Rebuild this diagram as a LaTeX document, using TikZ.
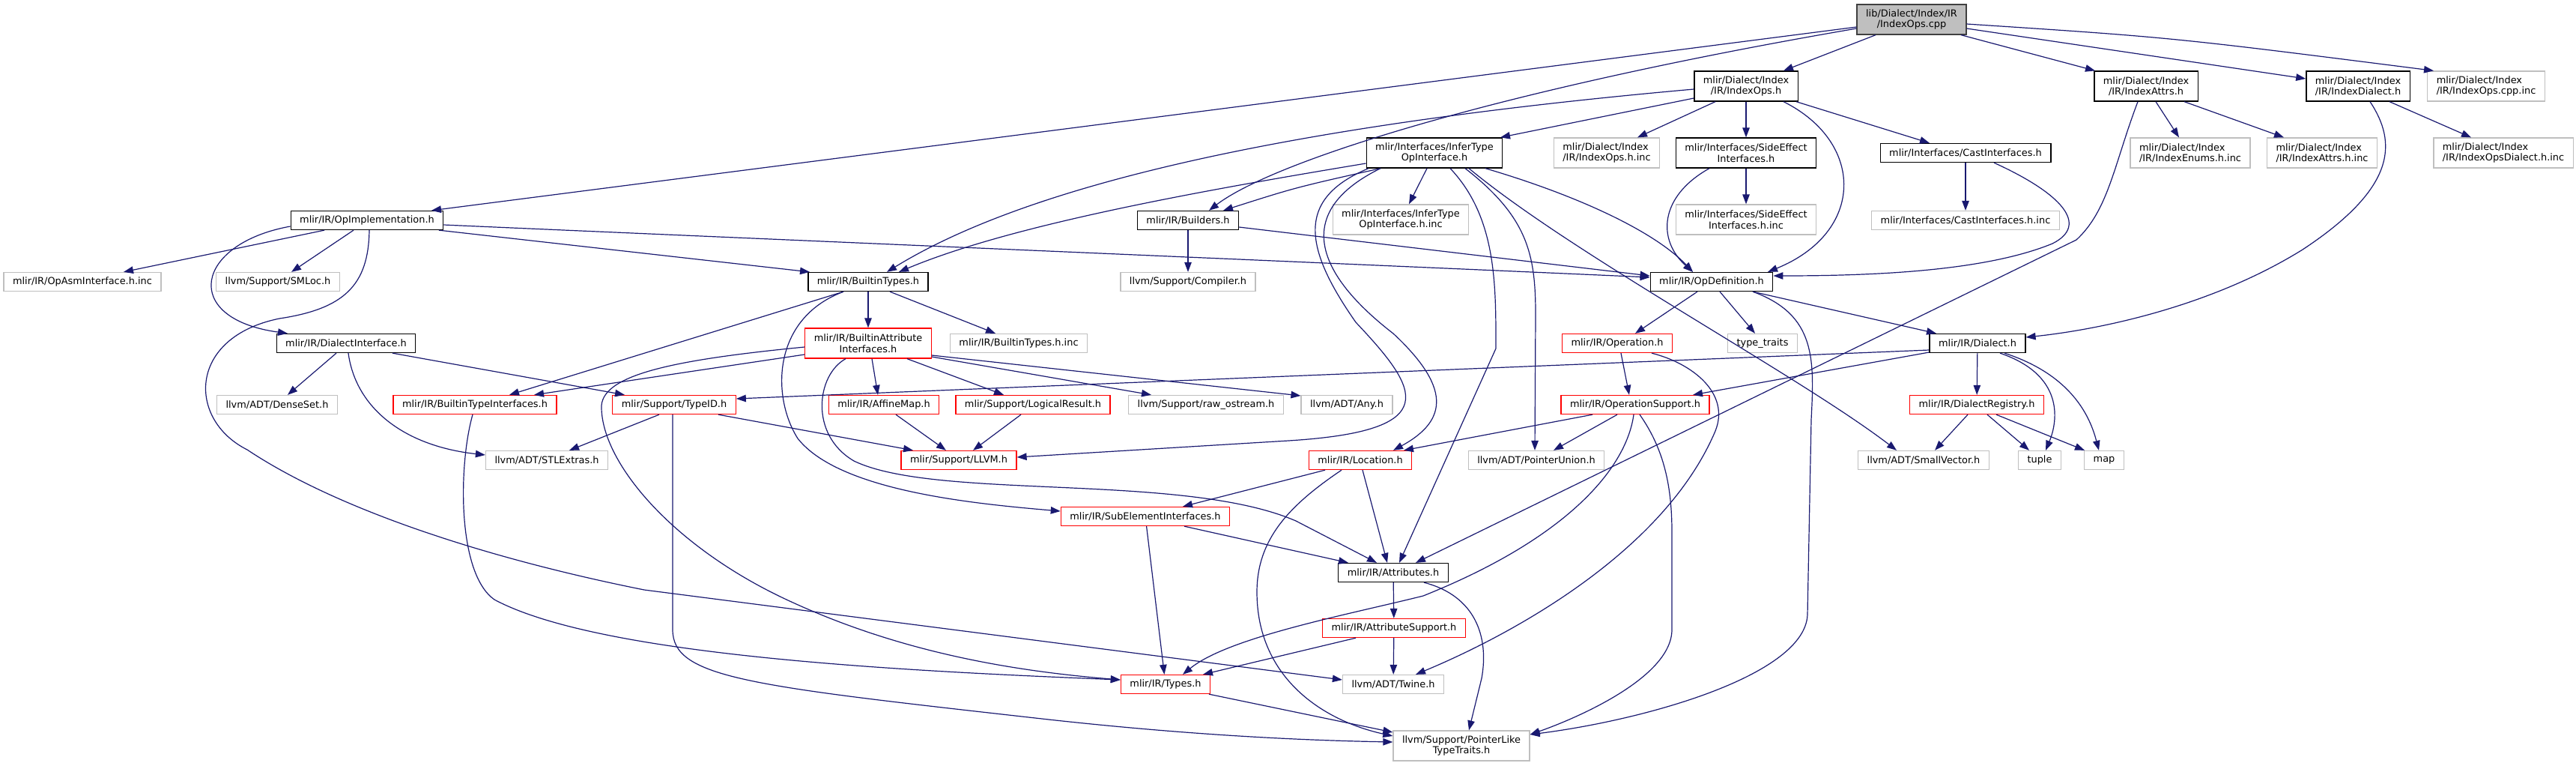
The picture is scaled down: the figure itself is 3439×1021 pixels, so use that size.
\documentclass[tikz,border=0pt]{standalone}
\usepackage{fontspec}
\setmainfont{DejaVu Sans}
\usetikzlibrary{arrows.meta}
\definecolor{bleunuit}{HTML}{191970}
\definecolor{grisclair}{HTML}{BFBFBF}
\definecolor{grisfonce}{HTML}{404040}

\begin{document}
\begin{tikzpicture}[x=1pt, y=-1pt,
    boite/.style={draw, line width=1.3pt, inner xsep=12pt, inner ysep=0pt,
        minimum height=25pt, align=center, text=black,
        font=\fontsize{12.9}{14.5}\selectfont},
    doc/.style={boite, draw=black},
    ext/.style={boite, draw=grisclair},
    trq/.style={boite, draw=red},
    racine/.style={boite, draw=grisfonce, fill=grisclair},
    deux/.style={minimum height=40pt},
    gauche/.style={align=left},
    dep/.style={draw=bleunuit, line width=1.2pt, -{Triangle[length=13pt, width=9.5pt]}}]

    \useasboundingbox (0,0) rectangle (3439,1021);

    % Fichier racine
    \node[racine, deux] (root) at (2552,26) {lib/Dialect/Index/IR\\/IndexOps.cpp};

    % Rangee 1
    \node[doc, deux] (indexopsh) at (2331,115) {mlir/Dialect/Index\\/IR/IndexOps.h};
    \node[doc, deux] (indexattrs) at (2865,115) {mlir/Dialect/Index\\/IR/IndexAttrs.h};
    \node[doc, deux] (indexdialect) at (3148,115) {mlir/Dialect/Index\\/IR/IndexDialect.h};
    \node[ext, deux, gauche] (opscppinc) at (3319,115) {mlir/Dialect/Index\\/IR/IndexOps.cpp.inc};

    % Rangee 2
    \node[doc, deux] (infertype) at (1915,204) {mlir/Interfaces/InferType\\OpInterface.h};
    \node[ext, deux, gauche] (opshinc) at (2145,204) {mlir/Dialect/Index\\/IR/IndexOps.h.inc};
    \node[doc, deux] (sideeffect) at (2331,204) {mlir/Interfaces/SideEffect\\Interfaces.h};
    \node[doc] (castif) at (2624,204) {mlir/Interfaces/CastInterfaces.h};
    \node[ext, deux, gauche] (enumsinc) at (2924,204) {mlir/Dialect/Index\\/IR/IndexEnums.h.inc};
    \node[ext, deux, gauche] (attrsinc) at (3100,204) {mlir/Dialect/Index\\/IR/IndexAttrs.h.inc};
    \node[ext, deux, gauche] (dialectinc) at (3342,204) {mlir/Dialect/Index\\/IR/IndexOpsDialect.h.inc};

    % Rangee 3
    \node[doc] (opimpl) at (490,294) {mlir/IR/OpImplementation.h};
    \node[doc] (builders) at (1586,294) {mlir/IR/Builders.h};
    \node[ext, deux] (infertypeinc) at (1870,293) {mlir/Interfaces/InferType\\OpInterface.h.inc};
    \node[ext, deux] (sideeffectinc) at (2331,293) {mlir/Interfaces/SideEffect\\Interfaces.h.inc};
    \node[ext] (castifinc) at (2624,294) {mlir/Interfaces/CastInterfaces.h.inc};

    % Rangee 4
    \node[ext] (opasm) at (110,376) {mlir/IR/OpAsmInterface.h.inc};
    \node[ext] (smloc) at (371,376) {llvm/Support/SMLoc.h};
    \node[doc] (builtintypes) at (1159,376) {mlir/IR/BuiltinTypes.h};
    \node[ext] (compiler) at (1586,376) {llvm/Support/Compiler.h};
    \node[doc] (opdef) at (2285,376) {mlir/IR/OpDefinition.h};

    % Rangee 5
    \node[doc] (dialectif) at (462,458) {mlir/IR/DialectInterface.h};
    \node[trq, deux] (battrif) at (1159,458) {mlir/IR/BuiltinAttribute\\Interfaces.h};
    \node[ext] (builtintypesinc) at (1360,458) {mlir/IR/BuiltinTypes.h.inc};
    \node[trq] (operation) at (2159,458) {mlir/IR/Operation.h};
    \node[ext] (typetraits) at (2353,458) {type\_traits};
    \node[doc] (dialect) at (2640,458) {mlir/IR/Dialect.h};

    % Rangee 6
    \node[ext] (denseset) at (370,540) {llvm/ADT/DenseSet.h};
    \node[trq] (btypeif) at (634,540) {mlir/IR/BuiltinTypeInterfaces.h};
    \node[trq] (typeid) at (900,540) {mlir/Support/TypeID.h};
    \node[trq] (affinemap) at (1180,540) {mlir/IR/AffineMap.h};
    \node[trq] (logicalres) at (1379,540) {mlir/Support/LogicalResult.h};
    \node[ext] (rawostream) at (1610,540) {llvm/Support/raw\_ostream.h};
    \node[ext] (any) at (1798,540) {llvm/ADT/Any.h};
    \node[trq] (opsupport) at (2183,540) {mlir/IR/OperationSupport.h};
    \node[trq] (registry) at (2639,540) {mlir/IR/DialectRegistry.h};

    % Rangee 7
    \node[ext] (stlextras) at (730,614) {llvm/ADT/STLExtras.h};
    \node[trq] (llvmh) at (1280,614) {mlir/Support/LLVM.h};
    \node[trq] (location) at (1816,614) {mlir/IR/Location.h};
    \node[ext] (ptrunion) at (2051,614) {llvm/ADT/PointerUnion.h};
    \node[ext] (smallvec) at (2568,614) {llvm/ADT/SmallVector.h};
    \node[ext] (tuple) at (2723,614) {tuple};
    \node[ext] (map) at (2809,614) {map};

    % Rangees du bas
    \node[trq] (subelem) at (1529,689) {mlir/IR/SubElementInterfaces.h};
    \node[doc] (attributes) at (1860,764) {mlir/IR/Attributes.h};
    \node[trq] (attrsupport) at (1861,838) {mlir/IR/AttributeSupport.h};
    \node[trq] (types) at (1556,913) {mlir/IR/Types.h};
    \node[ext] (twine) at (1860,913) {llvm/ADT/Twine.h};
    \node[ext, deux] (ptrlike) at (1951,995) {llvm/Support/PointerLike\\TypeTraits.h};

    % --- Dependances ---

    % Depuis la racine
    \draw[dep] ([yshift=-10]root.west) -- ([xshift=86]opimpl.north);
    \draw[dep] ([yshift=-12]root.west) .. controls (2000,120) and (1700,215) .. ([xshift=28]builders.north);
    \draw[dep] ([xshift=-48]root.south) -- ([xshift=50]indexopsh.north);
    \draw[dep] ([xshift=66]root.south) -- ([xshift=-68]indexattrs.north);
    \draw[dep] ([yshift=-12]root.east) -- ([yshift=10]indexdialect.west);
    \draw[dep] ([yshift=-6]root.east) .. controls (2900,50) .. ([xshift=-70]opscppinc.north);

    % IndexOps.h
    \draw[dep] ([yshift=-4]indexopsh.west) .. controls (1800,160) and (1400,230) .. ([xshift=25]builtintypes.north);
    \draw[dep] ([yshift=-16]indexopsh.west) -- ([xshift=88]infertype.north);
    \draw[dep] ([xshift=-41]indexopsh.south) -- ([xshift=41]opshinc.north);
    \draw[dep] (indexopsh) -- (sideeffect);
    \draw[dep] ([xshift=67]indexopsh.south) -- ([xshift=-48]castif.north);
    \draw[dep] ([xshift=50]indexopsh.south) .. controls (2490,190) and (2490,310) .. ([xshift=75]opdef.north);

    % InferTypeOpInterface.h
    \draw[dep] ([xshift=-10]infertype.south) -- ([xshift=11]infertypeinc.north);
    \draw[dep] ([yshift=-14]infertype.west) .. controls (1600,255) and (1350,300) .. ([xshift=41]builtintypes.north);
    \draw[dep] ([xshift=-72]infertype.south) .. controls (1730,250) .. ([xshift=47]builders.north);
    \draw[dep] ([xshift=68]infertype.south) .. controls (2110,262) and (2210,310) .. ([xshift=-25]opdef.north);
    \draw[dep] ([xshift=-88]infertype.south) .. controls (1730,265) and (1740,330) .. (1810,430)
        .. controls (1895,520) and (1930,575) .. (1720,588) -- ([yshift=4]llvmh.east);
    \draw[dep] ([xshift=-72]infertype.south) .. controls (1730,280) and (1750,360) .. (1860,445)
        .. controls (1935,515) and (1935,560) .. ([xshift=44]location.north);
    \draw[dep] ([xshift=21]infertype.south) .. controls (1998,290) and (1997,380) .. (1997,465) -- ([xshift=8]attributes.north);
    \draw[dep] ([xshift=41]infertype.south) .. controls (2040,290) and (2050,340) .. (2050,420) -- ([xshift=-2]ptrunion.north);
    \draw[dep] ([xshift=46]infertype.south) .. controls (2100,340) and (2400,500) .. ([xshift=-36]smallvec.north);

    % OpDefinition.h
    \draw[dep] ([xshift=-19]opdef.south) -- ([xshift=24]operation.north);
    \draw[dep] ([xshift=11]opdef.south) -- ([xshift=-10]typetraits.north);
    \draw[dep] ([xshift=55]opdef.south) -- ([xshift=-55]dialect.north);
    \draw[dep] ([xshift=55]opdef.south) .. controls (2425,420) and (2422,480) .. (2418,560) -- (2413,820)
        .. controls (2410,900) and (2200,960) .. ([yshift=15]ptrlike.east);

    % Builders.h
    \draw[dep] (builders) -- (compiler);
    \draw[dep] ([yshift=-9]builders.east) -- ([yshift=8]opdef.west);

    % OpImplementation.h
    \draw[dep] ([xshift=-57]opimpl.south) -- ([xshift=55]opasm.north);
    \draw[dep] ([xshift=-18]opimpl.south) -- ([xshift=18]smloc.north);
    \draw[dep] ([yshift=-8]opimpl.west) .. controls (260,325) and (240,425) .. ([xshift=-78]dialectif.north);
    \draw[dep] ([xshift=3]opimpl.south) .. controls (492,380) and (460,412) .. (373,425)
        .. controls (250,450) and (250,560) .. (330,600)
        .. controls (450,680) and (650,745) .. (860,787) -- ([yshift=6]twine.west);
    \draw[dep] ([xshift=96]opimpl.south) -- ([xshift=-78]builtintypes.north);
    \draw[dep] ([yshift=-6]opimpl.east) .. controls (1000,318) and (1800,352) .. ([yshift=6]opdef.west);

    % BuiltinTypes.h
    \draw[dep] (builtintypes) -- (battrif);
    \draw[dep] ([xshift=29]builtintypes.south) -- ([xshift=-31]builtintypesinc.north);
    \draw[dep] ([xshift=-33]builtintypes.south) -- ([xshift=46]btypeif.north);
    \draw[dep] ([xshift=-33]builtintypes.south) .. controls (1030,425) and (1030,530) .. (1065,585)
        .. controls (1120,655) and (1300,672) .. ([yshift=7]subelem.west);

    % BuiltinAttributeInterfaces.h
    \draw[dep] ([yshift=-15]battrif.west) -- ([xshift=79]btypeif.north);
    \draw[dep] ([yshift=-5]battrif.west) .. controls (900,480) and (800,500) .. (803,545)
        .. controls (805,620) and (900,730) .. (1050,800)
        .. controls (1200,870) and (1350,895) .. ([yshift=6]types.west);
    \draw[dep] ([xshift=5]battrif.south) -- ([xshift=-8]affinemap.north);
    \draw[dep] ([xshift=52]battrif.south) -- ([xshift=-39]logicalres.north);
    \draw[dep] ([yshift=-18]battrif.east) -- ([xshift=-73]rawostream.north);
    \draw[dep] ([yshift=-16]battrif.east) -- ([yshift=12]any.west);
    \draw[dep] ([xshift=-30]battrif.south) .. controls (1090,500) and (1080,580) .. (1140,615)
        .. controls (1250,668) and (1580,630) .. (1730,695) -- ([xshift=-22]attributes.north);

    % TypeID.h, AffineMap.h, LogicalResult.h
    \draw[dep] ([xshift=59]typeid.south) -- ([xshift=-61]llvmh.north);
    \draw[dep] ([xshift=-20]typeid.south) -- ([xshift=30]stlextras.north);
    \draw[dep] ([xshift=-2]typeid.south) -- (898,840) .. controls (898,905) and (1000,915) .. (1400,960)
        .. controls (1600,982) and (1750,988) .. ([yshift=5]ptrlike.west);
    \draw[dep] ([xshift=16]affinemap.south) -- ([xshift=-17]llvmh.north);
    \draw[dep] ([xshift=-16]logicalres.south) -- ([xshift=19]llvmh.north);

    % DialectInterface.h
    \draw[dep] ([xshift=-13]dialectif.south) -- ([xshift=14]denseset.north);
    \draw[dep] ([xshift=3]dialectif.south) .. controls (475,545) and (540,595) .. ([yshift=7]stlextras.west);
    \draw[dep] ([xshift=62]dialectif.south) -- ([xshift=-66]typeid.north);

    % BuiltinTypeInterfaces.h
    \draw[dep] ([xshift=-3]btypeif.south) .. controls (612,620) and (610,765) .. (660,800)
        .. controls (800,875) and (1200,895) .. ([yshift=6]types.west);

    % Operation.h
    \draw[dep] ([xshift=5]operation.south) -- ([xshift=-8]opsupport.north);
    \draw[dep] ([xshift=46]operation.south) .. controls (2260,485) and (2310,525) .. (2290,575)
        .. controls (2220,740) and (2010,850) .. ([xshift=30]twine.north);

    % OperationSupport.h
    \draw[dep] ([xshift=-57]opsupport.south) -- ([xshift=58]location.north);
    \draw[dep] ([xshift=-24]opsupport.south) -- ([xshift=23]ptrunion.north);
    \draw[dep] ([xshift=-2]opsupport.south) .. controls (2172,620) and (2100,715) .. (1900,795)
        .. controls (1800,820) and (1640,850) .. ([xshift=23]types.north);
    \draw[dep] ([xshift=6]opsupport.south) .. controls (2222,600) and (2232,650) .. (2232,710) -- (2232,840)
        .. controls (2232,905) and (2100,960) .. ([yshift=15]ptrlike.east);

    % Location.h
    \draw[dep] ([xshift=3]location.south) -- ([xshift=-8]attributes.north);
    \draw[dep] ([xshift=-47]location.south) -- ([xshift=50]subelem.north);
    \draw[dep] ([xshift=-25]location.south) .. controls (1720,675) and (1678,720) .. (1678,790)
        .. controls (1678,900) and (1760,960) .. ([yshift=13]ptrlike.west);

    % SubElementInterfaces.h
    \draw[dep] ([xshift=52]subelem.south) -- ([xshift=-60]attributes.north);
    \draw[dep] (subelem) -- (types);

    % Attributes.h et AttributeSupport.h
    \draw[dep] (attributes) -- (attrsupport);
    \draw[dep] ([xshift=41]attributes.south) .. controls (1970,795) and (1988,850) .. (1978,905) -- ([xshift=10]ptrlike.north);
    \draw[dep] (attrsupport) -- (twine);
    \draw[dep] ([xshift=-51]attrsupport.south) -- ([xshift=50]types.north);

    % Types.h
    \draw[dep] ([xshift=58]types.south) -- ([yshift=18]ptrlike.west);

    % Dialect.h
    \draw[dep] (dialect) -- (registry);
    \draw[dep] ([xshift=30]dialect.south) .. controls (2755,500) and (2748,560) .. ([xshift=8]tuple.north);
    \draw[dep] ([xshift=36]dialect.south) .. controls (2765,500) and (2790,555) .. ([xshift=-7]map.north);
    \draw[dep] ([yshift=-9]dialect.west) -- ([yshift=8]typeid.east);
    \draw[dep] ([yshift=-12]dialect.west) -- ([xshift=77]opsupport.north);

    % DialectRegistry.h
    \draw[dep] ([xshift=-12]registry.south) -- ([xshift=15]smallvec.north);
    \draw[dep] ([xshift=14]registry.south) -- ([xshift=-14]tuple.north);
    \draw[dep] ([xshift=26]registry.south) -- ([xshift=-26]map.north);

    % IndexDialect.h
    \draw[dep] ([xshift=16]indexdialect.south) .. controls (3200,190) and (3200,250) .. (3074,333)
        .. controls (2950,410) and (2800,440) .. ([yshift=8]dialect.east);
    \draw[dep] ([xshift=42]indexdialect.south) -- ([xshift=-43]dialectinc.north);

    % IndexAttrs.h
    \draw[dep] ([xshift=13]indexattrs.south) -- ([xshift=-15]enumsinc.north);
    \draw[dep] ([xshift=51]indexattrs.south) -- ([xshift=-51]attrsinc.north);
    \draw[dep] ([xshift=-11]indexattrs.south) .. controls (2822,220) and (2815,280) .. (2772,320) -- ([xshift=30]attributes.north);

    % CastInterfaces.h
    \draw[dep] (castif) -- (castifinc);
    \draw[dep] ([xshift=38]castif.south) .. controls (2752,258) and (2790,300) .. (2740,325)
        .. controls (2650,362) and (2500,368) .. ([yshift=8]opdef.east);

    % SideEffectInterfaces.h
    \draw[dep] (sideeffect) -- (sideeffectinc);
    \draw[dep] ([xshift=-49]sideeffect.south) .. controls (2215,262) and (2212,320) .. ([xshift=-25]opdef.north);

\end{tikzpicture}
\end{document}
